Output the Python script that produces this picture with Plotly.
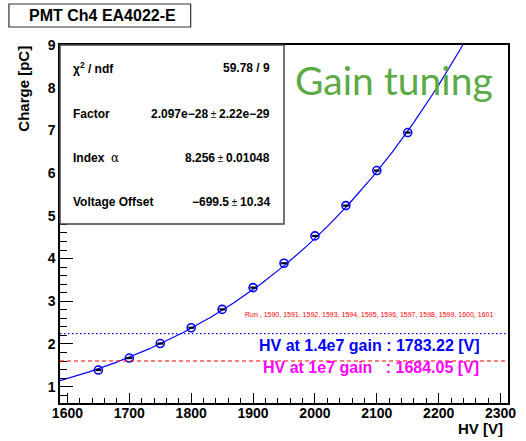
import numpy as np
import plotly.graph_objects as go

# Measured PMT charge vs. supply voltage
hv_points = [1650, 1700, 1750, 1800, 1850, 1900, 1950, 2000, 2050, 2100, 2150]
charge_pc = [1.39, 1.67, 2.01, 2.38, 2.81, 3.32, 3.89, 4.53, 5.24, 6.06, 6.95]

# Power-law fit: Q = factor * (HV - offset) ** alpha
fit_factor = 2.097e-28
fit_factor_err = 2.22e-29
fit_alpha = 8.256
fit_alpha_err = 0.01048
fit_offset = -699.5
fit_offset_err = 10.34
chi2 = 59.78
ndf = 9

# Target gains and the voltages that deliver them
target_gains = [1.4e7, 1e7]
target_hv = [1783.22, 1684.05]
target_labels = ["1.4e7", "1e7"]
electron_charge_pc = 1.602e-7  # e in pC

runs = [1590, 1591, 1592, 1593, 1594, 1595, 1596, 1597, 1598, 1599, 1600, 1601]

x_range = [1588, 2312]
y_range = [0.618, 9]

W, H = 526, 441
ML, MR, MT, MB = 60, 10, 45, 38
PW, PH = W - ML - MR, H - MT - MB


def px(p):
    return (p - ML) / PW


def py(p):
    return (H - MB - p) / PH


FONT = "Liberation Sans, Arial, Helvetica, sans-serif"

fig = go.Figure()

# fitted curve
xf = np.linspace(x_range[0], x_range[1], 600)
yf = fit_factor * (xf - fit_offset) ** fit_alpha
fig.add_trace(go.Scatter(x=xf, y=yf, mode="lines",
                         line=dict(color="#0000ff", width=1.2),
                         hoverinfo="skip", showlegend=False))

# data points: blue open circles with small black error marks
fig.add_trace(go.Scatter(x=hv_points, y=charge_pc, mode="markers",
                         marker=dict(symbol="circle-open", size=8,
                                     color="#0000ff", line=dict(width=1.6, color="#0000ff")),
                         showlegend=False))
fig.add_trace(go.Scatter(x=hv_points, y=charge_pc, mode="markers",
                         marker=dict(symbol="line-ew", size=4,
                                     line=dict(width=2.2, color="black")),
                         showlegend=False))

shapes = []
# reference charge levels for each target gain
line_styles = [dict(color="#0000ff", width=1.2, dash="1.5px,2.5px"),
               dict(color="#ff0000", width=1.0, dash="4px,3px")]
for g, st in zip(target_gains, line_styles):
    shapes.append(dict(type="line", xref="paper", yref="y", x0=0, x1=1,
                       y0=g * electron_charge_pc, y1=g * electron_charge_pc,
                       line=st, layer="above"))

# fit statistics box
shapes.append(dict(type="rect", xref="paper", yref="paper",
                   x0=px(60), x1=px(288), y0=py(224), y1=py(45),
                   fillcolor="white", line=dict(color="#444444", width=1.5),
                   layer="above"))
# title box
shapes.append(dict(type="rect", xref="paper", yref="paper",
                   x0=px(8), x1=px(193), y0=py(27), y1=py(4),
                   fillcolor="white", line=dict(color="#333333", width=1.2),
                   layer="above"))

annotations = []


def note(text, x, y, size, color="black", xanchor="left", yanchor="middle",
         family=FONT, angle=0):
    annotations.append(dict(text=text, x=px(x), y=py(y), xref="paper", yref="paper",
                            xanchor=xanchor, yanchor=yanchor, showarrow=False,
                            textangle=angle,
                            font=dict(family=family, size=size, color=color)))


note("<b>PMT Ch4 EA4022-E</b>", 103.5, 15.8, 16, xanchor="center")
note("Gain tuning", 297, 80, 39, color="#5BAA46", family="Lato, Carlito, sans-serif")

pm = "<span style='font-size:10px'> \u00b1 </span>"


def num(v):
    return v.replace("-", "\u2212")


stats_rows = [
    ("<b>\u03c7<sup>2</sup> / ndf</b>", f"<b>{chi2:.2f} / {ndf}</b>", 67.5),
    ("<b>Factor</b>", f"<b>{num(f'{fit_factor:.3e}')}</b>{pm}<b>{num(f'{fit_factor_err:.2e}')}</b>", 114),
    ("<b>Index</b>  <span style='font-family:DejaVu Serif'>\u03b1</span>",
     f"<b>{fit_alpha:.3f}</b>{pm}<b>{fit_alpha_err:.5f}</b>", 158),
    ("<b>Voltage Offset</b>", f"<b>{num(f'{fit_offset:.1f}')}</b>{pm}<b>{fit_offset_err:.2f}</b>", 202),
]
for left, right, yy in stats_rows:
    note(left, 71, yy, 12)
    note(right, 276, yy, 12, xanchor="right")

note("Run , " + ", ".join(str(r) for r in runs), 246, 314, 7, color="#ff0000")

hv_colors = ["#0000ff", "#ff00ff"]
hv_text = [f"<b>HV at {target_labels[0]} gain : {target_hv[0]:.2f} [V]</b>",
           f"<b>HV at {target_labels[1]} gain\u00a0\u00a0\u00a0: {target_hv[1]:.2f} [V]</b>"]
note(hv_text[0], 261, 345.7, 16, color=hv_colors[0])
note(hv_text[1], 265, 367.7, 16, color=hv_colors[1])

# axis titles
note("<b>HV [V]</b>", 513, 428, 15, xanchor="right")
note("<b>Charge [pC]</b>", 22, 89, 15, xanchor="center", angle=-90)

axis_common = dict(showgrid=False, zeroline=False, showline=True, mirror=True,
                   linecolor="black", linewidth=1.5, ticks="inside",
                   tickcolor="black", tickwidth=1.2,
                   tickfont=dict(family=FONT, size=14, color="black", weight="bold"))

fig.update_layout(
    width=W, height=H,
    margin=dict(l=ML, r=MR, t=MT, b=MB, pad=0),
    paper_bgcolor="white", plot_bgcolor="white",
    showlegend=False,
    xaxis=dict(range=x_range, dtick=100, tick0=1600, ticklen=10,
               ticklabelstandoff=-4,
               minor=dict(dtick=20, tick0=1600, ticklen=5, ticks="inside",
                          tickcolor="black", tickwidth=1),
               **axis_common),
    yaxis=dict(range=y_range, dtick=1, tick0=1, ticklen=13,
               minor=dict(dtick=0.2, tick0=1, ticklen=7, ticks="inside",
                          tickcolor="black", tickwidth=1),
               **axis_common),
    shapes=shapes,
    annotations=annotations,
)

fig.write_html("out.html")
